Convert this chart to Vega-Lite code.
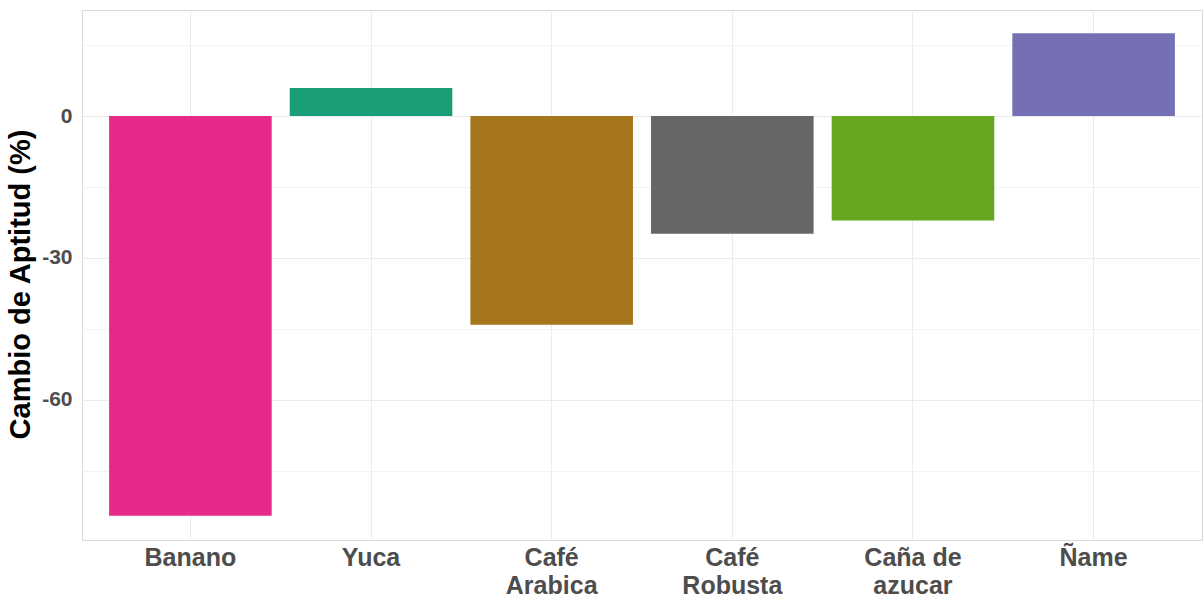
{
  "$schema": "https://vega.github.io/schema/vega-lite/v6.json",
  "width": 1120,
  "height": 530,
  "autosize": {"type": "none"},
  "padding": {"left": 82, "top": 10, "right": 1, "bottom": 65},
  "background": "white",
  "data": {
    "values": [
      {"cultivo": "Banano", "cambio": -84.5},
      {"cultivo": "Yuca", "cambio": 5.9},
      {"cultivo": "Café Arabica", "cambio": -44.1},
      {"cultivo": "Café Robusta", "cambio": -24.9},
      {"cultivo": "Caña de azucar", "cambio": -22.1},
      {"cultivo": "Ñame", "cambio": 17.5}
    ]
  },
  "mark": {"type": "bar"},
  "encoding": {
    "x": {
      "field": "cultivo",
      "type": "nominal",
      "sort": null,
      "scale": {"paddingInner": 0.1, "paddingOuter": 0.15},
      "axis": {
        "title": null,
        "domain": false,
        "ticks": false,
        "grid": true,
        "gridColor": "#ebebeb",
        "gridWidth": 1,
        "bandPosition": 0.5,
        "labelAngle": 0,
        "labelFont": "Liberation Sans",
        "labelFontWeight": "bold",
        "labelFontSize": 25,
        "labelColor": "#4d4d4d",
        "labelPadding": 5,
        "labelBaseline": "top",
        "labelLineHeight": 28,
        "labelExpr": "datum.label === 'Café Arabica' ? ['Café','Arabica'] : datum.label === 'Café Robusta' ? ['Café','Robusta'] : datum.label === 'Caña de azucar' ? ['Caña de','azucar'] : datum.label"
      }
    },
    "y": {
      "field": "cambio",
      "type": "quantitative",
      "scale": {"domain": [-89.6, 22.4], "nice": false, "zero": false},
      "axis": {
        "title": "Cambio de Aptitud (%)",
        "values": [15, 0, -15, -30, -45, -60, -75],
        "labelExpr": "datum.value % 30 === 0 ? '' + datum.value : ''",
        "domain": false,
        "ticks": false,
        "grid": true,
        "gridColor": "#ebebeb",
        "gridWidth": {"condition": {"test": "datum.value % 30 === 0", "value": 1.2}, "value": 0.6},
        "labelFont": "Liberation Sans",
        "labelFontWeight": "bold",
        "labelFontSize": 21,
        "labelColor": "#4d4d4d",
        "labelPadding": 10,
        "titleFont": "Liberation Sans",
        "titleFontWeight": "bold",
        "titleFontSize": 29,
        "titleColor": "#000000",
        "titleAngle": 270,
        "titleAlign": "center",
        "titleBaseline": "middle",
        "titleX": -62,
        "titleY": 274
      }
    },
    "color": {
      "field": "cultivo",
      "type": "nominal",
      "sort": null,
      "scale": {
        "domain": ["Banano", "Yuca", "Café Arabica", "Café Robusta", "Caña de azucar", "Ñame"],
        "range": ["#E7298A", "#1B9E77", "#A6761D", "#666666", "#66A61E", "#7570B3"]
      },
      "legend": null
    }
  },
  "config": {"view": {"stroke": "#d9d9d9", "strokeWidth": 1}}
}
